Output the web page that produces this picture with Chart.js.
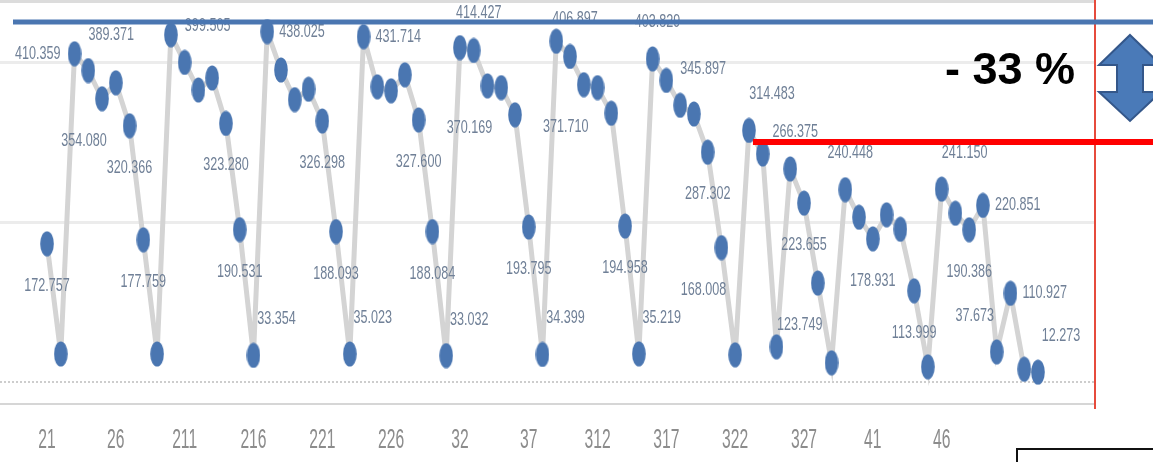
<!DOCTYPE html>
<html>
<head>
<meta charset="utf-8">
<script src="https://cdn.jsdelivr.net/npm/chart.js@4.4.1/dist/chart.umd.min.js"></script>
<style>
  html, body { margin: 0; padding: 0; background: #fff; }
  #wrap { position: relative; width: 1153px; height: 462px; }
</style>
</head>
<body>
<div id="wrap"><canvas id="chart"></canvas></div>
<script>
/* global Chart */
// daily dates, Feb 1 .. Apr 13 (written as month+day, like the source axis)
const categories = [
  '21', '22', '23', '24', '25', '26', '27', '28', '29', '210',
  '211', '212', '213', '214', '215', '216', '217', '218', '219', '220',
  '221', '222', '223', '224', '225', '226', '227', '228', '229',
  '31', '32', '33', '34', '35', '36', '37', '38', '39', '310',
  '311', '312', '313', '314', '315', '316', '317', '318', '319', '320',
  '321', '322', '323', '324', '325', '326', '327', '328', '329', '330', '331',
  '41', '42', '43', '44', '45', '46', '47', '48', '49', '410',
  '411', '412', '413'
];

const values = [
  172.757, 35, 410.359, 389.371, 354.080, 374, 320.366, 177.759, 35, 434,
  399.505, 365, 380, 323.280, 190.531, 33.354, 438.025, 390, 353, 366,
  326.298, 188.093, 35.023, 431.714, 369, 364, 384, 327.600, 188.084,
  33.032, 418, 414.427, 370.169, 368, 334, 193.795, 34.399, 426, 406.897,
  371.710, 368, 336, 194.958, 35.219, 403.829, 377, 345.897, 335, 287.302,
  168.008, 34, 314.483, 285, 44, 266.375, 223.655, 123.749, 24, 240.448,
  206, 178.931, 209, 191, 113.999, 19,
  241.150, 211, 190.386, 220.851, 37.673, 110.927, 16, 12.273
];

const tickLabels = ['21', '26', '211', '216', '221', '226', '32', '37', '312', '317', '322', '327', '41', '46'];

// points that carry a value label, and where the label sits
const labelPlacement = {
  0: 'below', 2: 'left', 3: 'aboveRight', 4: 'belowLeft', 6: 'below', 7: 'below',
  10: 'aboveRight', 13: 'below', 14: 'below', 15: 'aboveRight', 16: 'right',
  20: 'below', 21: 'below', 22: 'aboveRight', 23: 'right',
  27: 'below', 28: 'below', 29: 'aboveRight', 31: 'above', 32: 'belowLeft',
  35: 'below', 36: 'aboveRight', 38: 'above', 39: 'belowLeft', 42: 'below', 43: 'aboveRight',
  44: 'above', 46: 'aboveRight', 48: 'below', 49: 'belowLeft',
  51: 'aboveRight', 54: 'above', 55: 'below', 56: 'belowLeft',
  58: 'above', 60: 'below', 63: 'below',
  65: 'aboveRight', 67: 'below', 68: 'right', 69: 'aboveLeft', 70: 'right', 72: 'aboveRight'
};

const peakLine = 450;   // blue reference
const dropLine = 300;   // red reference (-33 %)
const dropFrom = 51;    // red line starts at this point

// tall oval marker
const dot = document.createElement('canvas');
dot.width = 14;
dot.height = 26;
const dctx = dot.getContext('2d');
dctx.fillStyle = '#4a76b1';
dctx.beginPath();
dctx.ellipse(7, 13, 6.8, 12.6, 0, 0, Math.PI * 2);
dctx.fill();

const offsets = {
  below: [0, 42, 'center'],
  belowLeft: [-18, 42, 'center'],
  above: [5, -37, 'center'],
  aboveRight: [23, -36, 'center'],
  aboveLeft: [-22, -36, 'center'],
  left: [-14, 0, 'right'],
  right: [12, 0, 'left']
};

function stretchedText(ctx, text, x, y, sx, sy) {
  ctx.save();
  ctx.translate(x, y);
  ctx.scale(sx, sy);
  ctx.fillText(text, 0, 0);
  ctx.restore();
}

const isZero = (c) => c.tick && c.tick.value === 0;

const overlay = {
  id: 'overlay',
  afterDatasetsDraw(chart) {
    const { ctx } = chart;
    const meta = chart.getDatasetMeta(0);
    ctx.save();
    ctx.font = '14px "Liberation Sans", Arial, sans-serif';
    ctx.fillStyle = '#708097';
    ctx.textBaseline = 'middle';
    Object.keys(labelPlacement).forEach((k) => {
      const i = Number(k);
      const pt = meta.data[i];
      const [dx, dy, align] = offsets[labelPlacement[k]];
      ctx.textAlign = align;
      stretchedText(ctx, values[i].toFixed(3), pt.x + dx, pt.y + dy, 0.9, 1.3);
    });
    ctx.restore();
  },
  afterDraw(chart) {
    const { ctx, chartArea } = chart;
    const xs = chart.scales.x;
    const ys = chart.scales.y;
    const W = chart.width;
    ctx.save();

    // date labels
    ctx.font = '18px "Liberation Sans", Arial, sans-serif';
    ctx.fillStyle = '#8c8c8c';
    ctx.textAlign = 'center';
    ctx.textBaseline = 'middle';
    tickLabels.forEach((t) => {
      const x = xs.getPixelForValue(categories.indexOf(t));
      stretchedText(ctx, t, x, chartArea.bottom + 37, 0.87, 1.5);
    });

    // frame top edge
    ctx.fillStyle = '#dcdcdc';
    ctx.fillRect(0, 0, chartArea.right, 3);

    // red vertical marker
    ctx.strokeStyle = '#e64b3c';
    ctx.lineWidth = 2;
    ctx.beginPath();
    ctx.moveTo(chartArea.right + 1, 0);
    ctx.lineTo(chartArea.right + 1, chartArea.bottom + 5);
    ctx.stroke();

    // blue peak line
    const yPeak = ys.getPixelForValue(peakLine);
    ctx.strokeStyle = '#4a76b1';
    ctx.lineWidth = 5;
    ctx.beginPath();
    ctx.moveTo(13, yPeak);
    ctx.lineTo(W, yPeak);
    ctx.stroke();

    // red drop line
    const yDrop = ys.getPixelForValue(dropLine);
    ctx.strokeStyle = '#ff0000';
    ctx.lineWidth = 6;
    ctx.beginPath();
    ctx.moveTo(xs.getPixelForValue(dropFrom) + 4, yDrop);
    ctx.lineTo(W, yDrop);
    ctx.stroke();

    // -33 % text
    ctx.fillStyle = '#000';
    ctx.font = 'bold 45px "Liberation Sans", Arial, sans-serif';
    ctx.textAlign = 'right';
    ctx.textBaseline = 'alphabetic';
    ctx.fillText('- 33 %', 1075, 84);

    // double arrow
    const cx = 1130;
    ctx.fillStyle = '#4a7ab8';
    ctx.strokeStyle = '#34578a';
    ctx.lineWidth = 2;
    ctx.beginPath();
    ctx.moveTo(cx, 35);
    ctx.lineTo(cx + 31, 65);
    ctx.lineTo(cx + 13, 65);
    ctx.lineTo(cx + 13, 92);
    ctx.lineTo(cx + 31, 92);
    ctx.lineTo(cx, 121);
    ctx.lineTo(cx - 31, 92);
    ctx.lineTo(cx - 13, 92);
    ctx.lineTo(cx - 13, 65);
    ctx.lineTo(cx - 31, 65);
    ctx.closePath();
    ctx.fill();
    ctx.stroke();

    // box in the corner
    ctx.strokeStyle = '#111';
    ctx.lineWidth = 2;
    ctx.strokeRect(1017, 449, 200, 40);
    ctx.restore();
  }
};

new Chart(document.getElementById('chart'), {
  type: 'line',
  data: {
    datasets: [{
      data: values.map((v, i) => ({ x: i, y: v })),
      borderColor: '#d4d4d4',
      borderWidth: 5,
      pointStyle: dot,
      tension: 0
    }]
  },
  options: {
    responsive: true,
    maintainAspectRatio: false,
    animation: false,
    layout: { autoPadding: false, padding: { left: 0, right: 59, top: 0, bottom: 58 } },
    plugins: { legend: { display: false }, tooltip: { enabled: false } },
    scales: {
      x: {
        type: 'linear',
        min: -3.415,
        max: 76.07,
        grid: { display: false, drawTicks: false },
        ticks: { display: false },
        border: { color: '#d6d6d6', width: 2 }
      },
      y: {
        min: -27.5,
        max: 477.5,
        afterBuildTicks: (s) => { s.ticks = [0, 200, 400].map((v) => ({ value: v })); },
        ticks: { display: false },
        border: { display: false, dash: (c) => (isZero(c) ? [2, 2] : []) },
        grid: {
          drawTicks: false,
          color: (c) => (isZero(c) ? '#cdcdcd' : '#ececec'),
          lineWidth: (c) => (isZero(c) ? 2 : 3)
        }
      }
    }
  },
  plugins: [overlay]
});
</script>
</body>
</html>
